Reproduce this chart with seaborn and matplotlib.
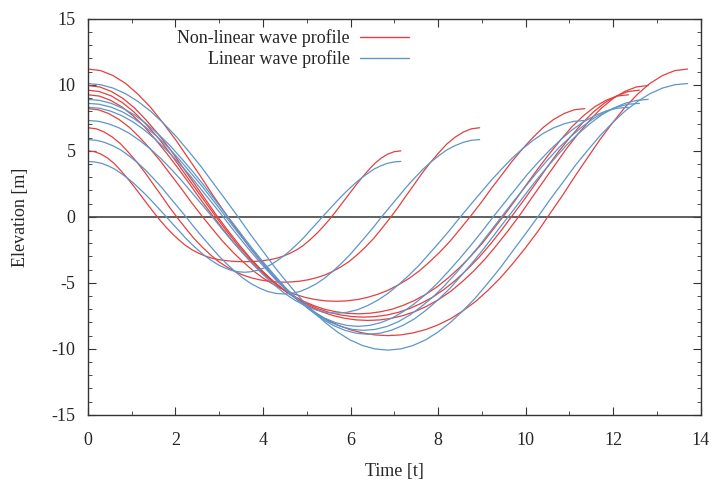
import pandas as pd
import matplotlib
matplotlib.use("Agg")
import matplotlib.pyplot as plt
from matplotlib.lines import Line2D
from matplotlib.ticker import MultipleLocator, FuncFormatter
import seaborn as sns

# time samples for each wave (one period per wave)
t1 = [0, .15, .30, .45, .60, .74, .89, 1.04, 1.19, 1.34, 1.49, 1.64, 1.79, 1.94, 2.09, 2.23, 2.38, 2.53, 2.68, 2.83, 2.98, 3.13, 3.28, 3.43, 3.58,
      3.72, 3.87, 4.02, 4.17, 4.32, 4.47, 4.62, 4.77, 4.92, 5.06, 5.21, 5.36, 5.51, 5.66, 5.81, 5.96, 6.11, 6.26, 6.41, 6.55, 6.70, 6.85, 7.00, 7.15]
t2 = [0, .19, .37, .56, .75, .93, 1.12, 1.31, 1.49, 1.68, 1.86, 2.05, 2.24, 2.42, 2.61, 2.80, 2.98, 3.17, 3.36, 3.54, 3.73, 3.92, 4.10, 4.29, 4.48,
      4.66, 4.85, 5.03, 5.22, 5.41, 5.59, 5.78, 5.97, 6.15, 6.34, 6.53, 6.71, 6.90, 7.09, 7.27, 7.46, 7.64, 7.83, 8.02, 8.20, 8.39, 8.58, 8.76, 8.95]
t3 = [0, .24, .47, .71, .95, 1.18, 1.42, 1.66, 1.89, 2.13, 2.36, 2.60, 2.84, 3.07, 3.31, 3.55, 3.78, 4.02, 4.26, 4.49, 4.73, 4.97, 5.20, 5.44, 5.68,
      5.91, 6.15, 6.38, 6.62, 6.86, 7.09, 7.33, 7.57, 7.80, 8.04, 8.28, 8.51, 8.75, 8.99, 9.22, 9.46, 9.69, 9.93, 10.17, 10.40, 10.64, 10.88, 11.11, 11.35]
t4 = [0, .26, .51, .77, 1.03, 1.29, 1.54, 1.80, 2.06, 2.32, 2.57, 2.83, 3.09, 3.34, 3.60, 3.86, 4.12, 4.37, 4.63, 4.89, 5.15, 5.40, 5.66, 5.92, 6.18,
      6.43, 6.69, 6.95, 7.20, 7.46, 7.72, 7.98, 8.23, 8.49, 8.75, 9.01, 9.26, 9.52, 9.78, 10.03, 10.29, 10.55, 10.81, 11.06, 11.32, 11.58, 11.84, 12.09, 12.35]
t5 = [0, .26, .53, .79, 1.05, 1.31, 1.58, 1.84, 2.10, 2.36, 2.63, 2.89, 3.15, 3.41, 3.68, 3.94, 4.20, 4.46, 4.73, 4.99, 5.25, 5.51, 5.78, 6.04, 6.30,
      6.56, 6.83, 7.09, 7.35, 7.61, 7.88, 8.14, 8.40, 8.66, 8.93, 9.19, 9.45, 9.71, 9.98, 10.24, 10.50, 10.76, 11.03, 11.29, 11.55, 11.81, 12.08, 12.34, 12.60]
t6 = [0, .27, .53, .80, 1.07, 1.33, 1.60, 1.87, 2.13, 2.40, 2.67, 2.93, 3.20, 3.47, 3.73, 4.00, 4.27, 4.53, 4.80, 5.07, 5.33, 5.60, 5.87, 6.13, 6.40,
      6.67, 6.93, 7.20, 7.47, 7.73, 8.00, 8.27, 8.53, 8.80, 9.07, 9.33, 9.60, 9.87, 10.13, 10.40, 10.67, 10.93, 11.20, 11.47, 11.73, 12.00, 12.27, 12.53, 12.80]
t7 = [0, .29, .57, .86, 1.14, 1.43, 1.71, 2.00, 2.28, 2.57, 2.85, 3.14, 3.43, 3.71, 4.00, 4.28, 4.57, 4.85, 5.14, 5.42, 5.71, 5.99, 6.28, 6.56, 6.85,
      7.14, 7.42, 7.71, 7.99, 8.28, 8.56, 8.85, 9.13, 9.42, 9.70, 9.99, 10.28, 10.56, 10.85, 11.13, 11.42, 11.70, 11.99, 12.27, 12.56, 12.84, 13.13, 13.41, 13.70]

# linear wave profiles (blue)
lin1 = [4.2, 4.16, 4.06, 3.88, 3.64, 3.33, 2.97, 2.56, 2.1, 1.61, 1.09, 0.55, 0, -0.55, -1.09, -1.61, -2.1, -2.56, -2.97, -3.33, -3.64, -3.88, -4.06, -4.16, -4.2,
        -4.16, -4.06, -3.88, -3.64, -3.33, -2.97, -2.56, -2.1, -1.61, -1.09, -0.55, 0, 0.55, 1.09, 1.61, 2.1, 2.56, 2.97, 3.33, 3.64, 3.88, 4.06, 4.16, 4.2]
lin2 = [5.85, 5.8, 5.65, 5.4, 5.07, 4.64, 4.14, 3.56, 2.93, 2.24, 1.51, 0.76, 0, -0.76, -1.51, -2.24, -2.93, -3.56, -4.14, -4.64, -5.07, -5.4, -5.65, -5.8, -5.85,
        -5.8, -5.65, -5.4, -5.07, -4.64, -4.14, -3.56, -2.93, -2.24, -1.51, -0.76, 0, 0.76, 1.51, 2.24, 2.93, 3.56, 4.14, 4.64, 5.07, 5.4, 5.65, 5.8, 5.85]
lin3 = [7.3, 7.24, 7.05, 6.74, 6.32, 5.79, 5.16, 4.44, 3.65, 2.79, 1.89, 0.95, 0, -0.95, -1.89, -2.79, -3.65, -4.44, -5.16, -5.79, -6.32, -6.74, -7.05, -7.24, -7.3,
        -7.24, -7.05, -6.74, -6.32, -5.79, -5.16, -4.44, -3.65, -2.79, -1.89, -0.95, 0, 0.95, 1.89, 2.79, 3.65, 4.44, 5.16, 5.79, 6.32, 6.74, 7.05, 7.24, 7.3]
lin4 = [8.3, 8.23, 8.02, 7.67, 7.19, 6.58, 5.87, 5.05, 4.15, 3.18, 2.15, 1.08, 0, -1.08, -2.15, -3.18, -4.15, -5.05, -5.87, -6.58, -7.19, -7.67, -8.02, -8.23, -8.3,
        -8.23, -8.02, -7.67, -7.19, -6.58, -5.87, -5.05, -4.15, -3.18, -2.15, -1.08, 0, 1.08, 2.15, 3.18, 4.15, 5.05, 5.87, 6.58, 7.19, 7.67, 8.02, 8.23, 8.3]
lin5 = [8.6, 8.53, 8.31, 7.95, 7.45, 6.82, 6.08, 5.24, 4.3, 3.29, 2.23, 1.12, 0, -1.12, -2.23, -3.29, -4.3, -5.24, -6.08, -6.82, -7.45, -7.95, -8.31, -8.53, -8.6,
        -8.53, -8.31, -7.95, -7.45, -6.82, -6.08, -5.24, -4.3, -3.29, -2.23, -1.12, 0, 1.12, 2.23, 3.29, 4.3, 5.24, 6.08, 6.82, 7.45, 7.95, 8.31, 8.53, 8.6]
lin6 = [8.9, 8.82, 8.6, 8.22, 7.71, 7.06, 6.29, 5.42, 4.45, 3.41, 2.3, 1.16, 0, -1.16, -2.3, -3.41, -4.45, -5.42, -6.29, -7.06, -7.71, -8.22, -8.6, -8.82, -8.9,
        -8.82, -8.6, -8.22, -7.71, -7.06, -6.29, -5.42, -4.45, -3.41, -2.3, -1.16, 0, 1.16, 2.3, 3.41, 4.45, 5.42, 6.29, 7.06, 7.71, 8.22, 8.6, 8.82, 8.9]
lin7 = [10.1, 10.01, 9.76, 9.33, 8.75, 8.01, 7.14, 6.15, 5.05, 3.87, 2.61, 1.32, 0, -1.32, -2.61, -3.87, -5.05, -6.15, -7.14, -8.01, -8.75, -9.33, -9.76, -10.01, -10.1,
        -10.01, -9.76, -9.33, -8.75, -8.01, -7.14, -6.15, -5.05, -3.87, -2.61, -1.32, 0, 1.32, 2.61, 3.87, 5.05, 6.15, 7.14, 8.01, 8.75, 9.33, 9.76, 10.01, 10.1]

# non-linear wave profiles (red)
nl1 = [5.0, 4.94, 4.75, 4.45, 4.04, 3.54, 2.97, 2.35, 1.7, 1.04, 0.39, -0.23, -0.8, -1.32, -1.78, -2.17, -2.5, -2.76, -2.97, -3.13, -3.24, -3.31, -3.36, -3.39, -3.4,
       -3.39, -3.36, -3.31, -3.24, -3.13, -2.97, -2.76, -2.5, -2.17, -1.78, -1.32, -0.8, -0.23, 0.39, 1.04, 1.7, 2.35, 2.97, 3.54, 4.04, 4.45, 4.75, 4.94, 5.0]
nl2 = [6.75, 6.67, 6.43, 6.04, 5.52, 4.87, 4.14, 3.33, 2.48, 1.6, 0.74, -0.1, -0.9, -1.63, -2.29, -2.88, -3.38, -3.79, -4.14, -4.41, -4.62, -4.77, -4.87, -4.93, -4.95,
       -4.93, -4.87, -4.77, -4.62, -4.41, -4.14, -3.79, -3.38, -2.88, -2.29, -1.63, -0.9, -0.1, 0.74, 1.6, 2.48, 3.33, 4.14, 4.87, 5.52, 6.04, 6.43, 6.67, 6.75]
nl3 = [8.2, 8.11, 7.83, 7.38, 6.77, 6.02, 5.16, 4.21, 3.2, 2.16, 1.11, 0.08, -0.9, -1.82, -2.67, -3.43, -4.1, -4.68, -5.16, -5.56, -5.87, -6.11, -6.27, -6.37, -6.4,
       -6.37, -6.27, -6.11, -5.87, -5.56, -5.16, -4.68, -4.1, -3.43, -2.67, -1.82, -0.9, 0.08, 1.11, 2.16, 3.2, 4.21, 5.16, 6.02, 6.77, 7.38, 7.83, 8.11, 8.2]
nl4 = [9.25, 9.15, 8.84, 8.34, 7.66, 6.83, 5.87, 4.81, 3.68, 2.5, 1.33, 0.17, -0.95, -2.0, -2.97, -3.85, -4.63, -5.3, -5.87, -6.34, -6.71, -7.0, -7.19, -7.31, -7.35,
       -7.31, -7.19, -7.0, -6.71, -6.34, -5.87, -5.3, -4.63, -3.85, -2.97, -2.0, -0.95, 0.17, 1.33, 2.5, 3.68, 4.81, 5.87, 6.83, 7.66, 8.34, 8.84, 9.15, 9.25]
nl5 = [9.6, 9.49, 9.17, 8.65, 7.95, 7.08, 6.08, 4.98, 3.8, 2.58, 1.36, 0.16, -1.0, -2.09, -3.09, -4.0, -4.8, -5.49, -6.08, -6.56, -6.95, -7.24, -7.44, -7.56, -7.6,
       -7.56, -7.44, -7.24, -6.95, -6.56, -6.08, -5.49, -4.8, -4.0, -3.09, -2.09, -1.0, 0.16, 1.36, 2.58, 3.8, 4.98, 6.08, 7.08, 7.95, 8.65, 9.17, 9.49, 9.6]
nl6 = [9.95, 9.84, 9.51, 8.97, 8.23, 7.33, 6.29, 5.15, 3.93, 2.66, 1.39, 0.15, -1.05, -2.18, -3.21, -4.15, -4.98, -5.69, -6.29, -6.79, -7.18, -7.48, -7.69, -7.81, -7.85,
       -7.81, -7.69, -7.48, -7.18, -6.79, -6.29, -5.69, -4.98, -4.15, -3.21, -2.18, -1.05, 0.15, 1.39, 2.66, 3.93, 5.15, 6.29, 7.33, 8.23, 8.97, 9.51, 9.84, 9.95]
nl7 = [11.2, 11.08, 10.71, 10.11, 9.3, 8.3, 7.14, 5.86, 4.5, 3.09, 1.66, 0.26, -1.1, -2.38, -3.57, -4.64, -5.6, -6.43, -7.14, -7.73, -8.2, -8.55, -8.8, -8.95, -9.0,
       -8.95, -8.8, -8.55, -8.2, -7.73, -7.14, -6.43, -5.6, -4.64, -3.57, -2.38, -1.1, 0.26, 1.66, 3.09, 4.5, 5.86, 7.14, 8.3, 9.3, 10.11, 10.71, 11.08, 11.2]

times = [t1, t2, t3, t4, t5, t6, t7]
linear = [lin1, lin2, lin3, lin4, lin5, lin6, lin7]
nonlinear = [nl1, nl2, nl3, nl4, nl5, nl6, nl7]

rows = []
for i in range(len(times)):
    assert len(times[i]) == len(linear[i]) == len(nonlinear[i])
    for t, y in zip(times[i], nonlinear[i]):
        rows.append({"t": t, "elev": y, "kind": "Non-linear wave profile", "wave": f"n{i}"})
    for t, y in zip(times[i], linear[i]):
        rows.append({"t": t, "elev": y, "kind": "Linear wave profile", "wave": f"l{i}"})
df = pd.DataFrame(rows)

red = "#e3403f"
blue = "#5d96c9"

sns.set_style("ticks")
plt.rcParams["font.family"] = ["Liberation Serif", "DejaVu Serif"]

fig, ax = plt.subplots(figsize=(7.15, 4.84), dpi=100)
fig.subplots_adjust(left=0.123, right=0.980, top=0.961, bottom=0.143)

ax.axhline(0, color="#444444", lw=1.2, zorder=1)

sns.lineplot(data=df, x="t", y="elev", hue="kind", units="wave", estimator=None,
             palette={"Non-linear wave profile": red, "Linear wave profile": blue},
             linewidth=0.9, sort=False, legend=False, ax=ax)

ax.set_xlim(0, 14)
ax.set_ylim(-15, 15)
ax.xaxis.set_major_locator(MultipleLocator(2))
ax.xaxis.set_minor_locator(MultipleLocator(1))
ax.yaxis.set_major_locator(MultipleLocator(5))
ax.yaxis.set_minor_locator(MultipleLocator(1))
ax.yaxis.set_major_formatter(FuncFormatter(lambda v, p: f"{v:g}"))
ax.tick_params(which="both", direction="in", top=True, right=True, labelsize=13, color="#333333")
ax.tick_params(which="major", length=6)
ax.tick_params(which="minor", length=3)
ax.tick_params(axis="x", which="major", pad=12.5)
ax.tick_params(axis="y", which="major", pad=9)
for s in ax.spines.values():
    s.set_color("#333333")
    s.set_linewidth(1.0)

ax.set_xlabel("Time [t]", fontsize=13, labelpad=10)
ax.set_ylabel("Elevation [m]", fontsize=13, labelpad=16)

handles = [Line2D([], [], color=red, lw=1.0), Line2D([], [], color=blue, lw=1.0)]
ax.legend(handles, ["Non-linear wave profile", "Linear wave profile"],
          loc="upper right", bbox_to_anchor=(0.551, 1.015), frameon=False,
          markerfirst=False, fontsize=13, handlelength=2.75, labelspacing=0.18,
          handletextpad=0.55)

fig.savefig("out.png", dpi=100)
